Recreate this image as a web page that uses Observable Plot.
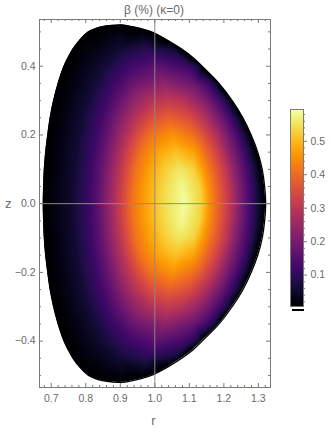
<!DOCTYPE html>
<html><head><meta charset="utf-8">
<script src="https://cdn.jsdelivr.net/npm/d3@7"></script>
<script src="https://cdn.jsdelivr.net/npm/@observablehq/plot@0.6"></script>
<style>
html,body{margin:0;padding:0;background:#fff;}
#wrap{position:relative;width:331px;height:434px;overflow:hidden;background:#fff;}
#wrap svg{position:absolute;}
</style></head><body><div id="wrap"></div>
<script>
// ---------- data ----------
const titleText = "β (%) (κ=0)";
const xLabel = "r";
const yLabel = "z";

// axis ticks
const xTickValues = [0.7, 0.8, 0.9, 1.0, 1.1, 1.2, 1.3];
const xTickLabels = ["0.7", "0.8", "0.9", "1.0", "1.1", "1.2", "1.3"];
const yTickValues = [-0.4, -0.2, 0, 0.2, 0.4];
const yTickLabels = ["\u22120.4", "\u22120.2", "0.0", "0.2", "0.4"];
const barTickValues = [0.1, 0.2, 0.3, 0.4, 0.5];
const barTickLabels = ["0.1", "0.2", "0.3", "0.4", "0.5"];
const betaRange = [0.006, 0.595];

// plasma boundary (upper half, outboard midplane -> top -> inboard midplane); up-down symmetric
const boundaryR = [1.321, 1.318, 1.311, 1.298, 1.279, 1.255, 1.224, 1.186, 1.137, 1.111, 1.078, 1.038, 0.990, 0.958, 0.935, 0.905, 0.878, 0.848, 0.830, 0.808, 0.782, 0.763, 0.749, 0.737, 0.720, 0.707, 0.697, 0.690, 0.684, 0.680, 0.678, 0.677];
const boundaryZ = [0, 0.05, 0.10, 0.15, 0.20, 0.25, 0.30, 0.35, 0.40, 0.425, 0.45, 0.475, 0.50, 0.51, 0.515, 0.52, 0.519, 0.515, 0.51, 0.50, 0.475, 0.45, 0.425, 0.40, 0.35, 0.30, 0.25, 0.20, 0.15, 0.10, 0.05, 0];

// beta levels and the radii where each row (|z|) crosses them, inboard and outboard
const betaLevels = [0.059, 0.118, 0.177, 0.236, 0.295, 0.354, 0.413, 0.472, 0.531];
const rowZ = [0, 0.05, 0.10, 0.15, 0.20, 0.25, 0.30, 0.35, 0.40, 0.45, 0.50];
const rInboard = [
  [0.765, 0.812, 0.843, 0.866, 0.890, 0.912, 0.935, 0.972, 1.015],
  [0.766, 0.813, 0.844, 0.868, 0.892, 0.914, 0.938, 0.975, 1.019],
  [0.769, 0.816, 0.848, 0.872, 0.897, 0.921, 0.945, 0.985, 1.036],
  [0.774, 0.822, 0.855, 0.880, 0.907, 0.932, 0.960, 1.005],
  [0.781, 0.831, 0.865, 0.892, 0.922, 0.952, 0.989],
  [0.791, 0.842, 0.879, 0.910, 0.946, 0.990],
  [0.805, 0.859, 0.900, 0.939, 0.997],
  [0.824, 0.884, 0.935],
  [0.850, 0.925],
  [0.900],
  []
];
const rOutboard = [
  [1.300, 1.280, 1.258, 1.238, 1.220, 1.198, 1.173, 1.153, 1.135],
  [1.298, 1.278, 1.256, 1.236, 1.217, 1.195, 1.170, 1.149, 1.130],
  [1.291, 1.271, 1.249, 1.228, 1.209, 1.186, 1.160, 1.137, 1.112],
  [1.279, 1.260, 1.237, 1.215, 1.195, 1.170, 1.141, 1.114],
  [1.263, 1.243, 1.220, 1.196, 1.173, 1.144, 1.106],
  [1.241, 1.221, 1.196, 1.169, 1.140, 1.098],
  [1.213, 1.192, 1.164, 1.130, 1.079],
  [1.176, 1.153, 1.116],
  [1.129, 1.095],
  [1.054],
  []
];
// maximum of each row
const ridgeR = [1.085, 1.078, 1.074, 1.060, 1.050, 1.043, 1.037, 1.028, 1.010, 0.978, 0.905];
const ridgeBeta = [0.590, 0.581, 0.555, 0.510, 0.453, 0.384, 0.310, 0.236, 0.162, 0.089, 0.025];

// ---------- tables ----------
const upper = boundaryR.map((r, i) => ({r, z: boundaryZ[i]}));
const lower = upper.slice(1, -1).reverse().map(d => ({r: d.r, z: -d.z}));
const boundary = upper.concat(lower);

const field = [];
rowZ.forEach((z, i) => {
  const zs = z === 0 ? [0] : [z, -z];
  for (const zz of zs) {
    rInboard[i].forEach((r, j) => field.push({r, z: zz, beta: betaLevels[j]}));
    rOutboard[i].forEach((r, j) => field.push({r, z: zz, beta: betaLevels[j]}));
    field.push({r: ridgeR[i], z: zz, beta: ridgeBeta[i]});
  }
});
boundary.forEach(d => field.push({r: d.r, z: d.z, beta: 0}));

const xMinor = d3.range(34, 67).filter(i => i % 5 !== 0).map(i => i * 0.02);
const yMinor = d3.range(-10, 11).filter(i => i % 4 !== 0).map(i => i * 0.05);
const barMinor = d3.range(1, 30).filter(i => i % 5 !== 0).map(i => i * 0.02);

// ---------- layout ----------
const W = 331, H = 434;
const mL = 39, mR = 61, mT = 19, mB = 47;
const fW = W - mL - mR, fH = H - mT - mB;
const gray = "#7a7a7a", txt = "#6a6a6a";
const font = "'Liberation Sans', Arial, Helvetica, sans-serif";
const colorOpts = {type: "linear", scheme: "inferno", domain: betaRange, clamp: true};

const chart = Plot.plot({
  width: W, height: H,
  marginLeft: mL, marginRight: mR, marginTop: mT, marginBottom: mB,
  style: {fontFamily: font, background: "none", overflow: "visible"},
  x: {domain: [0.666, 1.335], axis: null},
  y: {domain: [-0.535, 0.536], axis: null},
  color: colorOpts,
  marks: [
    Plot.raster(field, {x: "r", y: "z", fill: "beta", interpolate: "barycentric"}),
    Plot.line(boundary, {x: "r", y: "z", stroke: "black", strokeWidth: 1.3, curve: "catmull-rom-closed"}),
    Plot.ruleX([1.0], {stroke: "#8a8a8a", strokeWidth: 1}),
    Plot.ruleY([0], {stroke: "#8a8a8a", strokeWidth: 1}),
    Plot.frame({stroke: gray}),
    Plot.tickX(xTickValues, {x: d => d, stroke: gray, insetTop: fH - 4}),
    Plot.tickX(xTickValues, {x: d => d, stroke: gray, insetBottom: fH - 4}),
    Plot.tickX(xMinor, {x: d => d, stroke: gray, insetTop: fH - 2}),
    Plot.tickX(xMinor, {x: d => d, stroke: gray, insetBottom: fH - 2}),
    Plot.tickY(yTickValues, {y: d => d, stroke: gray, insetRight: fW - 4}),
    Plot.tickY(yTickValues, {y: d => d, stroke: gray, insetLeft: fW - 4}),
    Plot.tickY(yMinor, {y: d => d, stroke: gray, insetRight: fW - 2}),
    Plot.tickY(yMinor, {y: d => d, stroke: gray, insetLeft: fW - 2}),
    Plot.text(xTickValues, {x: d => d, text: (d, i) => xTickLabels[i], frameAnchor: "bottom", lineAnchor: "middle", dy: 11, fill: txt, fontSize: 10.5}),
    Plot.text(yTickValues, {y: d => d, text: (d, i) => yTickLabels[i], frameAnchor: "left", lineAnchor: "middle", textAnchor: "end", dx: -4, fill: txt, fontSize: 10.5}),
    Plot.text([titleText], {text: d => d, frameAnchor: "top", lineAnchor: "middle", dx: -1, dy: -9, fill: txt, fontSize: 12, ariaLabel: "title"}),
    Plot.text([xLabel], {text: d => d, frameAnchor: "bottom", lineAnchor: "middle", dx: -1.5, dy: 33.5, fill: txt, fontSize: 13}),
    Plot.text([yLabel], {text: d => d, frameAnchor: "left", lineAnchor: "middle", dx: -34.5, fill: txt, fontSize: 13})
  ]
});

// clip the field to the plasma boundary using the plot's own scales
(function clip() {
  const sx = chart.scale("x"), sy = chart.scale("y");
  const fx = sx.apply ? (v => sx.apply(v)) : d3.scaleLinear(sx.domain, sx.range);
  const fy = sy.apply ? (v => sy.apply(v)) : d3.scaleLinear(sy.domain, sy.range);
  const d = d3.line().curve(d3.curveCatmullRomClosed)(boundary.map(p => [fx(p.r), fy(p.z)]));
  const svg = d3.select(chart);
  svg.insert("defs", ":first-child").append("clipPath").attr("id", "plasma-clip").append("path").attr("d", d);
  const rg = chart.querySelector('g[aria-label="raster"]');
  if (rg) {
    const wrapG = document.createElementNS("http://www.w3.org/2000/svg", "g");
    wrapG.setAttribute("clip-path", "url(#plasma-clip)");
    rg.parentNode.insertBefore(wrapG, rg);
    wrapG.appendChild(rg);
  }
  const t = chart.querySelector('g[aria-label="title"] text');
  if (t) t.innerHTML = '<tspan font-style="italic">β</tspan> (%) (<tspan font-style="italic">κ</tspan>=0)';
})();

// colour bar
const barW = 13;
const bar = Plot.plot({
  width: 51, height: 235,
  marginLeft: 10, marginRight: 28, marginTop: 10, marginBottom: 28,
  style: {fontFamily: font, background: "none", overflow: "visible"},
  x: {domain: [0, 1], axis: null},
  y: {domain: betaRange, axis: null},
  color: colorOpts,
  marks: [
    Plot.raster({fill: (x, y) => y, x1: 0, x2: 1, y1: betaRange[0], y2: betaRange[1]}),
    Plot.frame({stroke: gray}),
    Plot.tickY(barTickValues, {y: d => d, stroke: gray, insetLeft: barW, insetRight: -4}),
    Plot.tickY(barMinor, {y: d => d, stroke: gray, insetLeft: barW, insetRight: -2}),
    Plot.text(barTickValues, {y: d => d, text: (d, i) => barTickLabels[i], frameAnchor: "right", lineAnchor: "middle", textAnchor: "start", dx: 7, fill: txt, fontSize: 10.5}),
    Plot.ruleY([betaRange[0]], {stroke: "black", strokeWidth: 2, dy: 3.5, insetLeft: 2, insetRight: -1})
  ]
});

const wrap = document.getElementById("wrap");
chart.style.left = "0px"; chart.style.top = "0px";
bar.style.left = "280px"; bar.style.top = "99px";
wrap.appendChild(chart);
wrap.appendChild(bar);
</script></body></html>
